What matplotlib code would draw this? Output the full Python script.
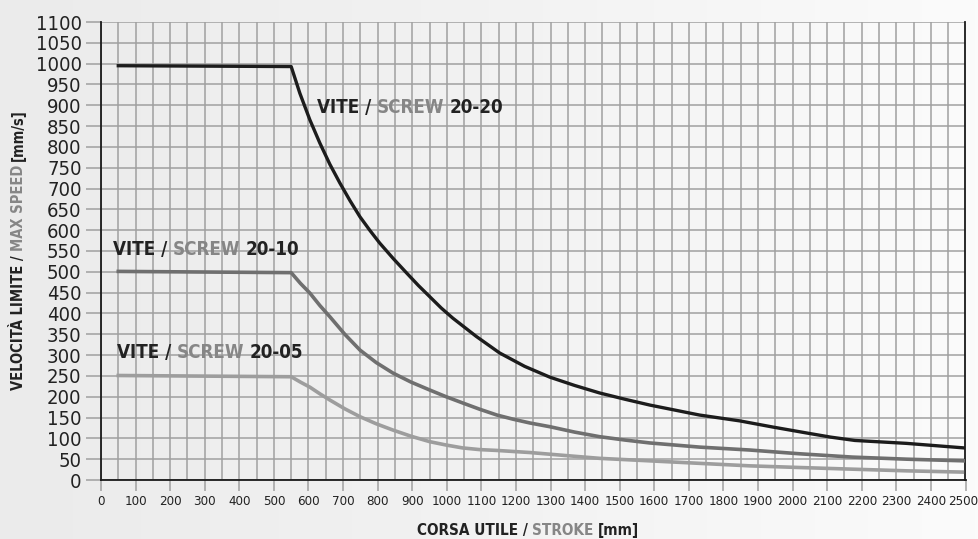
import matplotlib
matplotlib.use("Agg")
import matplotlib.pyplot as plt
import matplotlib.transforms as mtransforms
import numpy as np

plt.rcParams["font.family"] = ["DejaVu Sans"]
plt.rcParams["font.stretch"] = "condensed"

# stroke [mm] / max speed [mm/s]
x_2020 = [50, 550, 575, 604, 633, 662, 691, 720, 749, 778, 806, 845, 884, 918,
          951, 984, 1017, 1085, 1153, 1225, 1298, 1370, 1442, 1515, 1587, 1659,
          1731, 1847, 1944, 2040, 2110, 2180, 2329, 2497]
v_2020 = [995, 993, 929, 865, 809, 758, 713, 671, 632, 599, 569, 532, 497, 467,
          440, 413, 389, 345, 305, 273, 247, 227, 209, 194, 180, 168,
          156, 142, 127, 113, 103, 95, 88, 77]

x_2010 = [50, 550, 577, 604, 633, 662, 705, 749, 796, 844, 897, 951, 998, 1046,
          1095, 1145, 1192, 1240, 1298, 1370, 1442, 1515, 1587, 1659, 1731,
          1876, 2020, 2173, 2330, 2497]
v_2010 = [501, 498, 472, 449, 419, 392, 350, 312, 282, 257, 235, 216, 200, 185,
          170, 156, 146, 137, 128, 115, 104, 96, 89, 84, 79,
          72, 63, 55, 50, 46]

x_2005 = [50, 550, 577, 604, 633, 662, 705, 749, 796, 844, 897, 951, 998, 1046,
          1095, 1145, 1240, 1340, 1442, 1587, 1731, 1876, 2020, 2173, 2330, 2491]
v_2005 = [251, 248, 235, 223, 207, 192, 171, 152, 135, 120, 105, 92, 84, 77,
          73, 71, 66, 59, 52, 46, 40, 34, 30, 26, 22, 19]

x_ticks = list(range(0, 2501, 100))
y_ticks = list(range(0, 1101, 50))

DARK = "#222222"
GREY_TXT = "#868686"
GRID = "#a0a0a0"


def multicolor(ax, x, y, parts, gap=4, **kw):
    t = ax.text(x, y, parts[0][0], color=parts[0][1], va="baseline", **kw)
    for s, c in parts[1:]:
        t = ax.annotate(s, xy=(1, 0), xycoords=t, xytext=(gap, 0),
                        textcoords="offset points", va="bottom", ha="left",
                        color=c, **kw)
    return t


fig = plt.figure(figsize=(9.79, 5.39), dpi=100)

# light grey background, a bit brighter to the right
bg = fig.add_axes([0, 0, 1, 1], zorder=-10)
grad = np.linspace(0, 1, 256).reshape(1, -1)
bg.imshow(grad, aspect="auto", cmap=matplotlib.colors.LinearSegmentedColormap.from_list(
    "bg", ["#ebebeb", "#f2f2f2", "#fbfbfb"]), extent=[0, 1, 0, 1])
bg.set_axis_off()

ax = fig.add_axes([101 / 979, 1 - 480 / 539, (965.5 - 101) / 979, (480 - 22) / 539])
ax.set_facecolor("none")

ax.set_xlim(0, 2500)
ax.set_ylim(0, 1100)
ax.set_xticks(x_ticks)
ax.set_xticks(list(range(50, 2500, 100)), minor=True)
ax.set_yticks(y_ticks)
ax.grid(True, which="both", color=GRID, lw=1.1)
ax.set_axisbelow(True)

ax.tick_params(axis="y", length=11, width=1.1, color=GRID, pad=3,
               labelsize=14.5, labelcolor=DARK)
ax.tick_params(axis="x", which="major", length=8, width=1.1, color=GRID, pad=3,
               labelsize=9.5, labelcolor=DARK)
ax.tick_params(axis="x", which="minor", length=0)

# keep the last stroke label inside the picture
last = ax.get_xticklabels()[-1]
last.set_transform(last.get_transform() +
                   mtransforms.ScaledTranslation(-2.5 / 100, 0, fig.dpi_scale_trans))

for side in ["left", "bottom", "right"]:
    ax.spines[side].set_color("#1a1a1a")
    ax.spines[side].set_linewidth(1.3)
ax.spines["top"].set_visible(False)

ax.plot(x_2005, v_2005, color="#9d9d9d", lw=2.6, solid_joinstyle="round", zorder=3)
ax.plot(x_2010, v_2010, color="#6f6f6f", lw=2.6, solid_joinstyle="round", zorder=3)
ax.plot(x_2020, v_2020, color="#1c1c1c", lw=2.4, solid_joinstyle="round", zorder=4)

lab = dict(fontsize=13.5, fontweight="bold")
multicolor(ax, 624, 881, [("VITE /", DARK), ("SCREW", GREY_TXT), ("20-20", DARK)], **lab)
multicolor(ax, 35, 540, [("VITE /", DARK), ("SCREW", GREY_TXT), ("20-10", DARK)], **lab)
multicolor(ax, 46, 293, [("VITE /", DARK), ("SCREW", GREY_TXT), ("20-05", DARK)], **lab)

# axis titles, two-tone
xl = dict(fontsize=11, fontweight="bold")
x1 = fig.text(417 / 979, 1 - 535 / 539, "CORSA UTILE /", color=DARK, va="baseline", **xl)
x2 = fig.add_artist(matplotlib.text.Annotation(
    "STROKE", xy=(1, 0), xycoords=x1, xytext=(3, 0), textcoords="offset points",
    va="bottom", color=GREY_TXT, **xl))
fig.add_artist(matplotlib.text.Annotation(
    "[mm]", xy=(1, 0), xycoords=x2, xytext=(3, 0), textcoords="offset points",
    va="bottom", color=DARK, **xl))

yl = dict(fontsize=10.5, fontweight="bold", rotation=90)
y1 = fig.text(26 / 979, 1 - 390 / 539, "VELOCITÀ LIMITE /", color=DARK,
              ha="right", va="bottom", **yl)
y2 = fig.add_artist(matplotlib.text.Annotation(
    "MAX SPEED", xy=(1, 1), xycoords=y1, xytext=(0, 3), textcoords="offset points",
    ha="right", va="bottom", color=GREY_TXT, **yl))
fig.add_artist(matplotlib.text.Annotation(
    "[mm/s]", xy=(1, 1), xycoords=y2, xytext=(0, 3), textcoords="offset points",
    ha="right", va="bottom", color=DARK, **yl))

fig.savefig("out.png", dpi=100)
